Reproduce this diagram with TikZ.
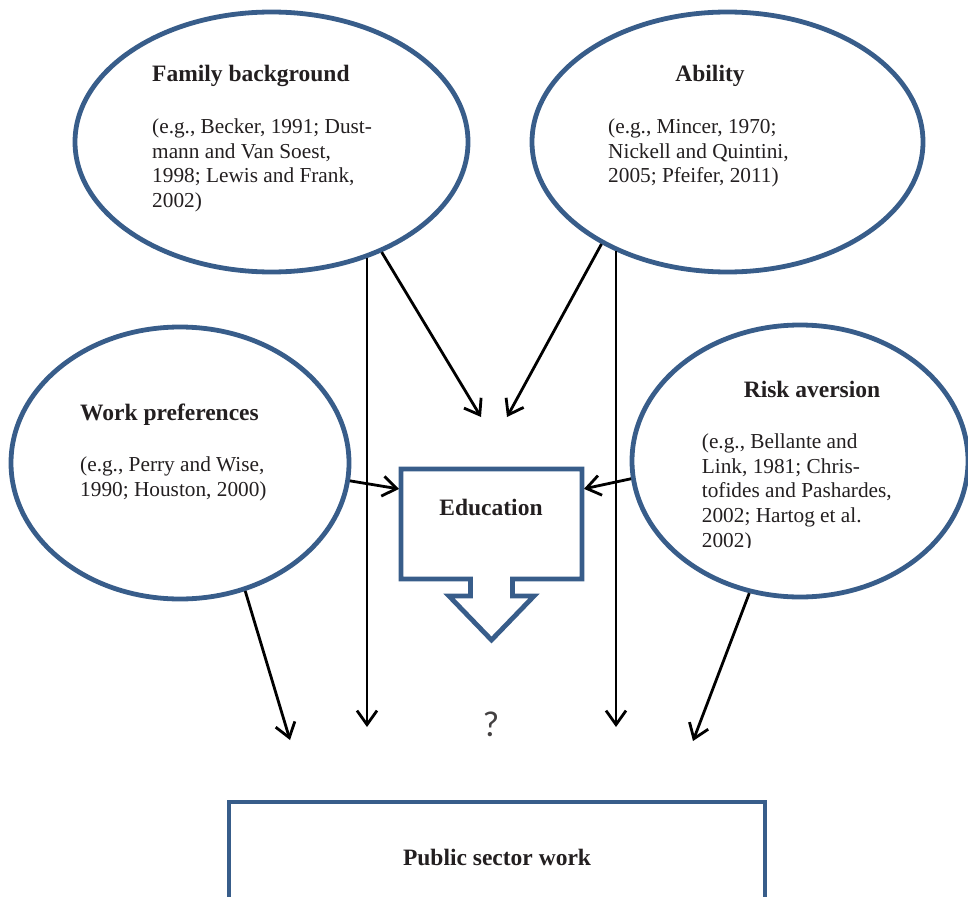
\documentclass[tikz,border=0pt]{standalone}
\usepackage{fontspec}
\setmainfont{Liberation Serif}
\newfontfamily\qfont{Carlito}
\usetikzlibrary{arrows.meta,shapes.geometric}
\definecolor{bord}{RGB}{56,93,138}
\definecolor{ink}{RGB}{35,31,32}
\begin{document}
\begin{tikzpicture}[x=1pt,y=-1pt,
  oval/.style={ellipse,draw=bord,line width=4.8pt,inner sep=0pt},
  head/.style={font=\fontsize{23.5}{28}\selectfont\bfseries,text=ink,inner sep=0pt},
  cite/.style={font=\fontsize{21.3}{24.75}\selectfont,text=ink,inner sep=0pt,align=left,anchor=north west},
  arr/.style={line width=2.8pt,-{Straight Barb[length=14pt,width=20pt,line width=2.8pt]}}]
\useasboundingbox (0,0) rectangle (968,896);

% ellipses
\node[oval,minimum width=393pt,minimum height=260pt] (fam) at (271.5,142) {};
\node[oval,minimum width=391pt,minimum height=260pt] (abl) at (727.5,142) {};
\node[oval,minimum width=338pt,minimum height=272pt] (work) at (180,463) {};
\node[oval,minimum width=336pt,minimum height=272pt] (risk) at (800,461) {};

% texts in ellipses
\node[head,anchor=base west] (famh) at (152,82) {Family background};
\node[cite] (famc) at (152,118.4) {(e.g., Becker, 1991; Dust-\\mann and Van Soest,\\1998; Lewis and Frank,\\2002)};
\node[head,anchor=base] (ablh) at (710,82) {Ability};
\node[cite] (ablc) at (608,118.4) {(e.g., Mincer, 1970;\\Nickell and Quintini,\\2005; Pfeifer, 2011)};
\node[head,anchor=base west] (workh) at (80,420) {Work preferences};
\node[cite] (workc) at (80,457) {(e.g., Perry and Wise,\\1990; Houston, 2000)};
\node[head,anchor=base] (riskh) at (812,397) {Risk aversion};
\begin{scope}
\clip (690,420) rectangle (930,547.5);
\node[cite] (riskc) at (701.7,433.4) {(e.g., Bellante and\\Link, 1981; Chris-\\tofides and Pashardes,\\2002; Hartog et al.\\2002)};
\end{scope}

% education callout
\node[minimum width=181pt,minimum height=110pt,inner sep=0pt,outer sep=0pt] (edu) at (491.5,524) {};
\draw[draw=bord,line width=4.8pt,line join=miter]
  (edu.north west) -- (edu.north east) -- (edu.south east) -- ++(-69.5,0) -- ++(0,17)
  -- ++(21.5,0) -- ++(-42.5,44) -- ++(-42.5,-44) -- ++(21.5,0) -- ++(0,-17)
  -- (edu.south west) -- cycle;
\node[head,anchor=base] (edut) at (491,515) {Education};

% public sector box
\node[draw=bord,line width=4.8pt,minimum width=536pt,minimum height=110pt,head] (pub) at (497,857) {Public sector work};

% question mark
\node[font=\qfont\fontsize{36}{40}\selectfont,text=ink!85,inner sep=0pt,anchor=base] (q) at (491,736) {?};

% arrow end points
\coordinate (famEnd) at (367,727);
\coordinate (ablEnd) at (616,727);
\coordinate (famDiag) at (481,417);
\coordinate (ablDiag) at (507,417);
\coordinate (workEnd) at (290,740);
\coordinate (riskEnd) at (693,741);

% arrows
\draw[arr] (famEnd |- fam.-50) -- (famEnd);
\draw[arr] (fam.-45) -- (famDiag);
\draw[arr] (abl.-141) -- (ablDiag);
\draw[arr] (ablEnd |- abl.-136) -- (ablEnd);
\draw[arr,shorten >=2pt] (work.-6) -- (edu.159);
\draw[arr,shorten >=2pt] (risk.-174) -- (edu.21);
\draw[arr] (work.-63) -- (workEnd);
\draw[arr] (risk.-111.5) -- (riskEnd);
\end{tikzpicture}
\end{document}
